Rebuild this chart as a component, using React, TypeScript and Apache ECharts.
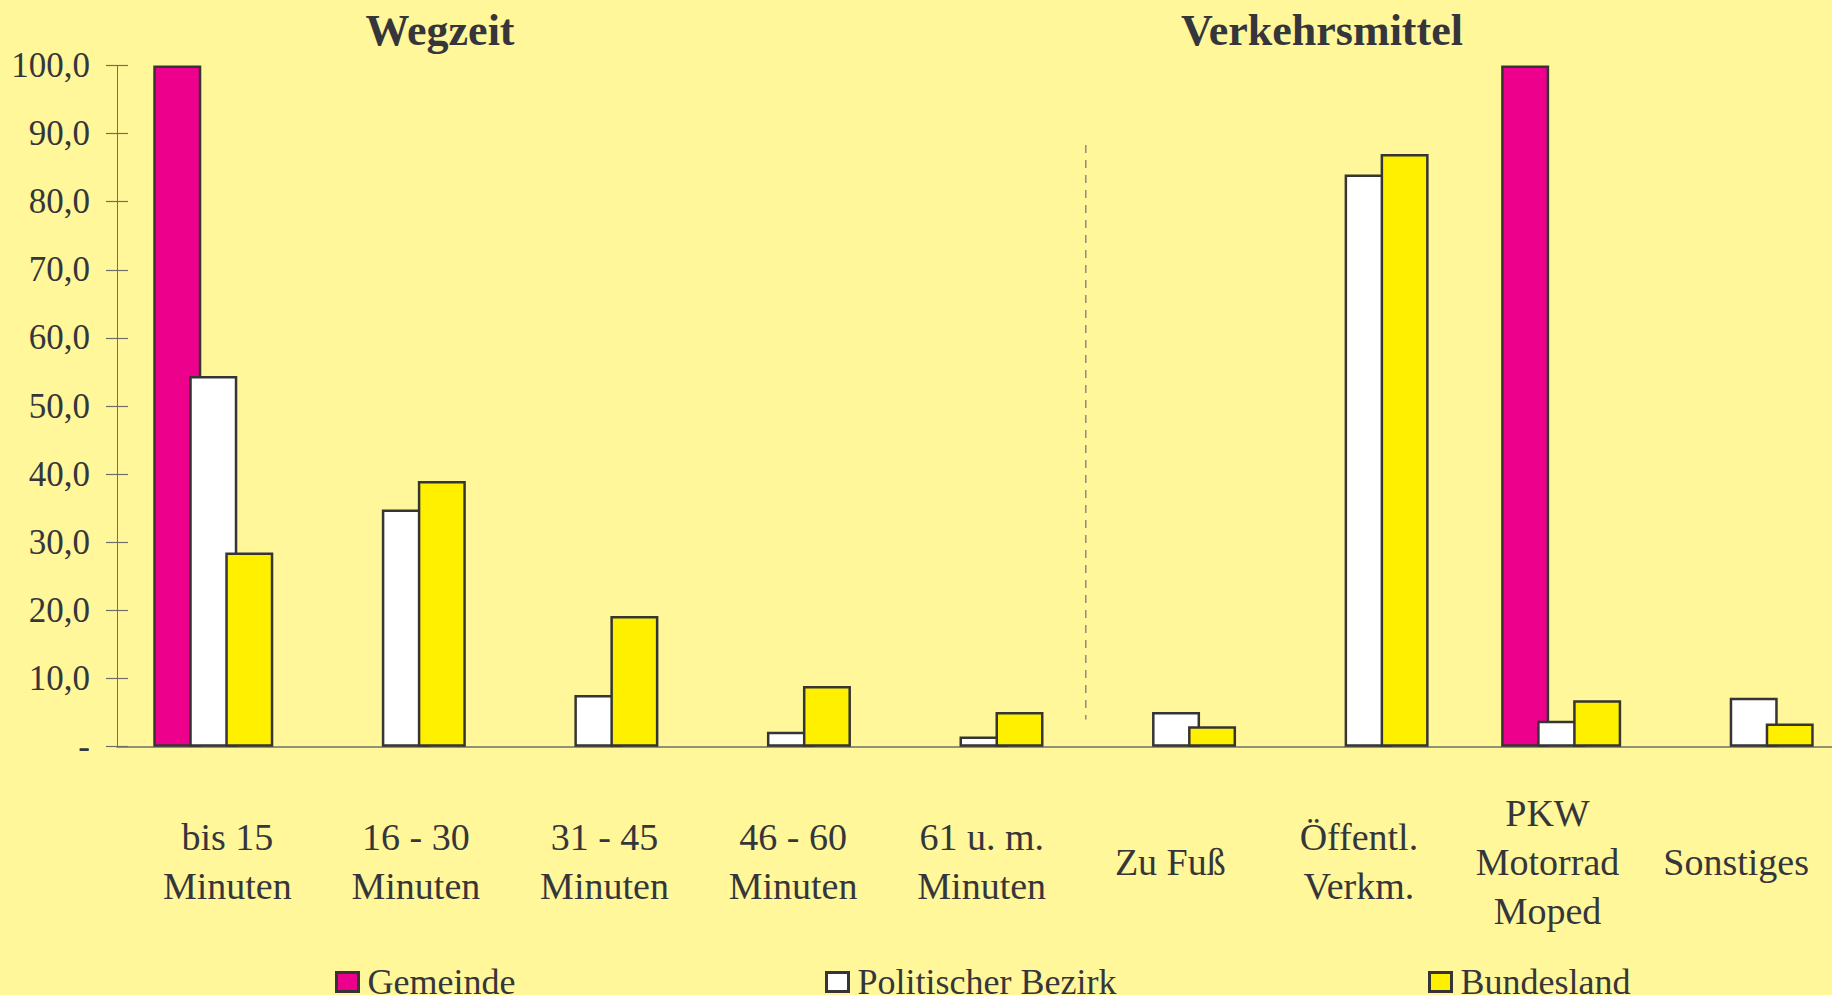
import React, { useEffect, useRef } from 'react';
import * as echarts from 'echarts';

const categories = [
  'bis 15\nMinuten',
  '16 - 30\nMinuten',
  '31 - 45\nMinuten',
  '46 - 60\nMinuten',
  '61 u. m.\nMinuten',
  'Zu Fuß',
  'Öffentl.\nVerkm.',
  'PKW\nMotorrad\nMoped',
  'Sonstiges',
];
const seriesNames = ['Gemeinde', 'Politischer Bezirk', 'Bundesland'];
const gemeinde = [100, null, null, null, null, null, null, 100, null];
const bezirk = [54.4, 34.8, 7.6, 2.2, 1.5, 5.1, 84.0, 3.8, 7.2];
const bundesland = [28.5, 39.0, 19.2, 8.9, 5.1, 3.0, 87.0, 6.8, 3.4];
const yMin = 0;
const yMax = 100;
const yInterval = 10;
const groupTitles = ['Wegzeit', 'Verkehrsmittel'];

const FONT = "'Liberation Serif', 'Times New Roman', serif";
const TEXT = '#35363b';
const AXIS = '#6f6f6a';
const BORDER = '#353535';
const colors = ['#EC008C', '#FFFFFF', '#FFF000'];

export default function App() {
  const ref = useRef<HTMLDivElement>(null);
  useEffect(() => {
    if (!ref.current) return;
    const chart = echarts.init(ref.current, undefined, { renderer: 'svg' });
    const seriesData = [gemeinde, bezirk, bundesland];
    const fmt = (v: number) => (v === 0 ? '-' : v.toFixed(1).replace('.', ','));
    const legendLefts = [335, 825, 1428];
    const option: any = {
      animation: false,
      backgroundColor: '#FFF799',
      textStyle: { fontFamily: FONT },
      grid: [
        { left: 117, top: 65.4, width: 1733, height: 681.3 },
        { left: 133, top: 65.4, width: 1697.4, height: 681.3 },
      ],
      xAxis: [
        {
          type: 'category', gridIndex: 0, data: categories, position: 'bottom',
          axisLine: { lineStyle: { color: AXIS, width: 1.5 } },
          axisTick: { length: 9, lineStyle: { color: AXIS, width: 1.2 } },
          axisLabel: { show: false },
        },
        {
          type: 'category', gridIndex: 0, data: categories, position: 'bottom',
          axisLine: { show: false },
          axisTick: { inside: true, length: 8, lineStyle: { color: AXIS, width: 1.2 } },
          axisLabel: { show: false },
        },
        {
          type: 'category', gridIndex: 1, data: categories, position: 'bottom',
          axisLine: { show: false }, axisTick: { show: false },
          axisLabel: {
            interval: 0, margin: 115, verticalAlign: 'middle', fontSize: 38,
            lineHeight: 49, color: TEXT, fontFamily: FONT,
          },
        },
      ],
      yAxis: [
        {
          type: 'value', gridIndex: 0, min: yMin, max: yMax, interval: yInterval, position: 'left',
          splitLine: { show: false },
          axisLine: { show: true, lineStyle: { color: AXIS, width: 1 } },
          axisTick: { show: true, length: 11, lineStyle: { color: AXIS, width: 1.2 } },
          axisLabel: { margin: 27, fontSize: 35, color: TEXT, fontFamily: FONT, formatter: fmt },
        },
        {
          type: 'value', gridIndex: 0, min: yMin, max: yMax, interval: yInterval, position: 'left',
          splitLine: { show: false }, axisLine: { show: false },
          axisTick: { show: true, inside: true, length: 11, lineStyle: { color: AXIS, width: 1.2 } },
          axisLabel: { show: false },
        },
        { type: 'value', gridIndex: 1, min: yMin, max: yMax, show: false },
      ],
      legend: seriesNames.map((n, i) => ({
        data: [n], left: legendLefts[i], top: 964, padding: 0,
        itemWidth: 22, itemHeight: 19, icon: 'rect', selectedMode: false,
        itemStyle: { borderColor: BORDER, borderWidth: 3 },
        textStyle: { fontSize: 36, color: TEXT, fontFamily: FONT, padding: [0, 0, 0, 4] },
      })),
      series: seriesNames.map((n, i) => ({
        name: n, type: 'bar', xAxisIndex: 0, yAxisIndex: 0,
        data: seriesData[i], barWidth: 48, barGap: '-25%',
        itemStyle: { color: colors[i], borderColor: BORDER, borderWidth: 2.5 },
      })),
    };
    chart.setOption(option);
    const xa = chart.convertToPixel({ xAxisIndex: 0 }, 4) as number;
    const xb = chart.convertToPixel({ xAxisIndex: 0 }, 5) as number;
    const sepX = (xa + xb) / 2 + 6;
    const yTop = chart.convertToPixel({ yAxisIndex: 0 }, 88.3) as number;
    const yBot = chart.convertToPixel({ yAxisIndex: 0 }, 4) as number;
    chart.setOption({
      graphic: [
        {
          type: 'text', x: 440, y: 30,
          style: { text: groupTitles[0], font: `bold 44px ${FONT}`, fill: TEXT, textAlign: 'center', textVerticalAlign: 'middle' },
        },
        {
          type: 'text', x: 1322, y: 30,
          style: { text: groupTitles[1], font: `bold 44px ${FONT}`, fill: TEXT, textAlign: 'center', textVerticalAlign: 'middle' },
        },
        {
          type: 'line',
          shape: { x1: sepX, y1: yTop, x2: sepX, y2: yBot },
          style: { stroke: '#8c8c84', lineWidth: 1.5, lineDash: [8, 7] },
        },
      ],
    });
    return () => chart.dispose();
  }, []);
  return (
    <div style={{ position: 'fixed', left: 0, top: 0, width: 1832, height: 995, overflow: 'hidden' }}>
      <div ref={ref} style={{ position: 'absolute', left: 0, top: 0, width: 1860, height: 995 }} />
    </div>
  );
}
